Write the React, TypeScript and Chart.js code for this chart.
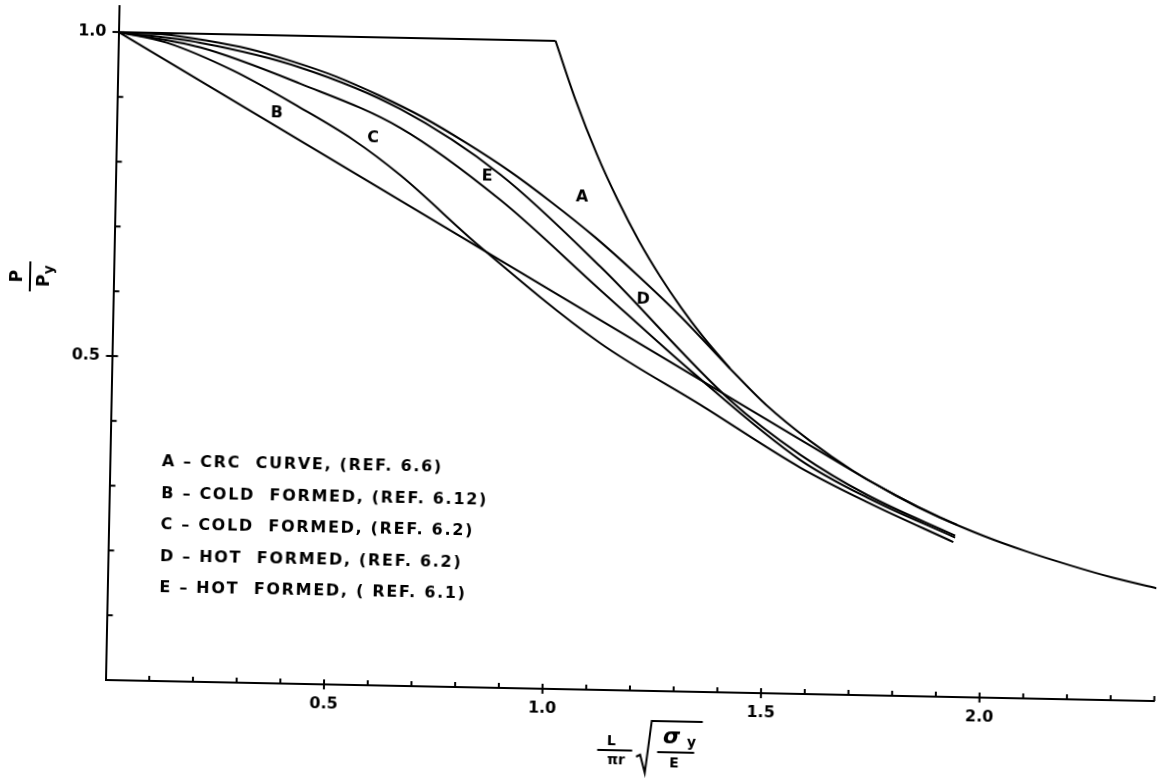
import React, { useEffect, useRef } from "react";
import { Chart, registerables } from "chart.js";

Chart.register(...registerables);

// ---------- axis ticks and labels ----------
const xTickValues = [0.1, 0.2, 0.3, 0.4, 0.5, 0.6, 0.7, 0.8, 0.9, 1.0, 1.1, 1.2, 1.3, 1.4, 1.5, 1.6, 1.7, 1.8, 1.9, 2.0, 2.1, 2.2, 2.3, 2.4];
const xLabelValues = [0.5, 1.0, 1.5, 2.0];
const xLabelTexts = ["0.5", "1.0", "1.5", "2.0"];
const yTickValues = [0.1, 0.2, 0.3, 0.4, 0.5, 0.6, 0.7, 0.8, 0.9, 1.0];
const yLabelValues = [0.5, 1.0];
const yLabelTexts = ["0.5", "1.0"];

// ---------- curves (x = slenderness, y = P/Py) ----------
const envelopeFlatX = [0, 1.0];
const envelopeFlatY = [1.0, 1.0];
const eulerX = [1.0, 1.05, 1.1, 1.15, 1.2, 1.25, 1.3, 1.35, 1.414];
const eulerY = [1.0, 0.907, 0.826, 0.756, 0.694, 0.64, 0.592, 0.549, 0.5];

const curveAX = [0, 0.1, 0.2, 0.3, 0.4, 0.5, 0.6, 0.7, 0.8, 0.9, 1.0, 1.1, 1.2, 1.3, 1.414, 1.5, 1.6, 1.7, 1.8, 1.9, 2.0, 2.1, 2.2, 2.3, 2.4];
const curveAY = [1.0, 0.998, 0.99, 0.978, 0.96, 0.938, 0.91, 0.878, 0.84, 0.798, 0.75, 0.698, 0.64, 0.578, 0.5, 0.444, 0.391, 0.346, 0.309, 0.277, 0.25, 0.227, 0.207, 0.189, 0.174];

const curveBX = [0, 1.732, 1.75, 1.8, 1.85, 1.9, 1.94];
const curveBY = [1.0, 0.333, 0.327, 0.309, 0.292, 0.277, 0.266];

const curveCX = [0, 0.111, 0.264, 0.419, 0.542, 0.651, 0.837, 1.116, 1.348, 1.58, 1.734, 1.933];
const curveCY = [1.0, 0.985, 0.944, 0.889, 0.841, 0.788, 0.68, 0.535, 0.443, 0.349, 0.298, 0.239];

const curveDX = [0, 0.187, 0.417, 0.648, 0.88, 1.113, 1.416, 1.579, 1.734, 1.937];
const curveDY = [1.0, 0.986, 0.951, 0.89, 0.792, 0.653, 0.451, 0.369, 0.309, 0.249];

const curveEX = [0, 0.187, 0.418, 0.649, 0.881, 1.114, 1.33, 1.579, 1.734, 1.937];
const curveEY = [1.0, 0.979, 0.926, 0.861, 0.753, 0.617, 0.492, 0.361, 0.305, 0.246];

// ---------- annotations ----------
const curveLetters = ["A", "B", "C", "D", "E"];
const curveLetterX = [1.068, 0.366, 0.587, 1.2125, 0.85];
const curveLetterY = [0.76, 0.88, 0.845, 0.603, 0.788];

const legendLines = [
  "A – CRC  CURVE, (REF. 6.6)",
  "B – COLD  FORMED, (REF. 6.12)",
  "C – COLD  FORMED, (REF. 6.2)",
  "D – HOT  FORMED, (REF. 6.2)",
  "E – HOT  FORMED, ( REF. 6.1)",
];

const FONT = "'DejaVu Sans', 'Liberation Sans', sans-serif";
const INK = "#000";

function pts(xs: number[], ys: number[]) {
  return xs.map((x, i) => ({ x, y: ys[i] }));
}

const decorPlugin = {
  id: "decor",
  afterDraw(chart: any) {
    const { ctx, chartArea } = chart;
    const xs = chart.scales.x;
    const ys = chart.scales.y;
    const L = chartArea.left;
    const B = chartArea.bottom;
    ctx.save();
    ctx.strokeStyle = INK;
    ctx.fillStyle = INK;
    ctx.lineWidth = 2;

    // x ticks (inside, majors cross)
    xTickValues.forEach((v) => {
      const px = xs.getPixelForValue(v);
      const major = xLabelValues.includes(v);
      ctx.beginPath();
      ctx.moveTo(px, B - 5);
      ctx.lineTo(px, B + (major ? 5 : 0));
      ctx.stroke();
    });
    // y ticks
    yTickValues.forEach((v) => {
      const py = ys.getPixelForValue(v);
      const major = yLabelValues.includes(v);
      ctx.beginPath();
      ctx.moveTo(L - (major ? 6 : 0), py);
      ctx.lineTo(L + 6, py);
      ctx.stroke();
    });

    // curve letters
    ctx.font = `bold 16px ${FONT}`;
    ctx.textAlign = "center";
    ctx.textBaseline = "middle";
    curveLetters.forEach((t, i) => {
      ctx.fillText(t, xs.getPixelForValue(curveLetterX[i]), ys.getPixelForValue(curveLetterY[i]));
    });

    // legend block
    ctx.font = `bold 16px ${FONT}`;
    (ctx as any).letterSpacing = "1.7px";
    ctx.textAlign = "left";
    legendLines.forEach((t, i) => {
      ctx.fillText(t, L + 52, B - 219 + i * 31.5);
    });
    (ctx as any).letterSpacing = "0px";

    // y-axis title: P / Py (rotated)
    ctx.save();
    ctx.translate(22, 278);
    ctx.rotate(-Math.PI / 2);
    ctx.font = `bold 17px ${FONT}`;
    ctx.textAlign = "center";
    ctx.fillText("P", 0, -12);
    ctx.beginPath();
    ctx.moveTo(-15, 0);
    ctx.lineTo(15, 0);
    ctx.stroke();
    ctx.fillText("P", -4, 15);
    ctx.font = `bold 14px ${FONT}`;
    ctx.fillText("y", 7, 19);
    ctx.restore();

    // x-axis title: L/(pi r) * sqrt(sigma_y / E)
    const cx = L;
    ctx.font = `bold 14px ${FONT}`;
    ctx.textAlign = "center";
    ctx.fillText("L", cx + 507, B + 51);
    ctx.lineWidth = 2;
    ctx.beginPath();
    ctx.moveTo(cx + 493, B + 60);
    ctx.lineTo(cx + 528, B + 60);
    ctx.stroke();
    ctx.fillText("πr", cx + 512, B + 70);
    ctx.beginPath();
    ctx.moveTo(cx + 532, B + 66);
    ctx.lineTo(cx + 536, B + 64);
    ctx.lineTo(cx + 541, B + 82);
    ctx.lineTo(cx + 547, B + 30);
    ctx.lineTo(cx + 598, B + 30);
    ctx.stroke();
    ctx.font = `italic bold 22px ${FONT}`;
    ctx.fillText("σ", cx + 567, B + 46);
    ctx.font = `bold 14px ${FONT}`;
    ctx.fillText("y", cx + 587, B + 51);
    ctx.beginPath();
    ctx.moveTo(cx + 553, B + 61);
    ctx.lineTo(cx + 590, B + 61);
    ctx.stroke();
    ctx.fillText("E", cx + 570, B + 72);

    ctx.restore();
  },
};

export default function App() {
  const ref = useRef<HTMLCanvasElement | null>(null);

  useEffect(() => {
    if (!ref.current) return;
    const line = (data: any, extra: any = {}) => ({
      data,
      borderColor: INK,
      borderWidth: 2,
      pointRadius: 0,
      fill: false,
      ...extra,
    });
    const chart = new Chart(ref.current, {
      type: "line",
      data: {
        datasets: [
          line(pts(envelopeFlatX, envelopeFlatY), { label: "Euler plateau", tension: 0 }),
          line(pts(eulerX, eulerY), { label: "Euler", cubicInterpolationMode: "monotone" }),
          line(pts(curveAX, curveAY), { label: "A", cubicInterpolationMode: "monotone" }),
          line(pts(curveBX, curveBY), { label: "B", tension: 0 }),
          line(pts(curveCX, curveCY), { label: "C", cubicInterpolationMode: "monotone" }),
          line(pts(curveDX, curveDY), { label: "D", cubicInterpolationMode: "monotone" }),
          line(pts(curveEX, curveEY), { label: "E", cubicInterpolationMode: "monotone" }),
        ],
      },
      options: {
        animation: false,
        responsive: false,
        devicePixelRatio: 1,
        layout: { padding: { left: 0, right: 4.5, top: 6, bottom: 0 } },
        plugins: {
          legend: { display: false },
          tooltip: { enabled: false },
          title: { display: false },
        },
        scales: {
          x: {
            type: "linear",
            min: 0,
            max: 2.4,
            afterFit: (s: any) => {
              s.height = 100;
              s.paddingLeft = 0;
              s.paddingRight = 0;
            },
            afterBuildTicks: (s: any) => {
              s.ticks = xLabelValues.map((v) => ({ value: v }));
            },
            ticks: {
              autoSkip: false,
              maxRotation: 0,
              padding: 10,
              color: INK,
              font: { family: FONT, size: 16, weight: "bold" },
              callback: (v: any) => {
                const i = xLabelValues.indexOf(Number(v));
                return i >= 0 ? xLabelTexts[i] : "";
              },
            },
            grid: { display: false, drawTicks: false },
            border: { display: true, color: INK, width: 2 },
          },
          y: {
            type: "linear",
            min: 0,
            max: 1.04,
            afterFit: (s: any) => {
              s.width = 105.5;
              s.paddingTop = 0;
              s.paddingBottom = 0;
            },
            afterBuildTicks: (s: any) => {
              s.ticks = yLabelValues.map((v) => ({ value: v }));
            },
            ticks: {
              autoSkip: false,
              padding: 12,
              color: INK,
              font: { family: FONT, size: 16, weight: "bold" },
              callback: (v: any) => {
                const i = yLabelValues.indexOf(Number(v));
                return i >= 0 ? yLabelTexts[i] : "";
              },
            },
            grid: { display: false, drawTicks: false },
            border: { display: true, color: INK, width: 2 },
          },
        },
      },
      plugins: [decorPlugin],
    } as any);
    return () => chart.destroy();
  }, []);

  return (
    <div style={{ position: "fixed", left: 0, top: 0, width: 1159, height: 780, background: "#fff", overflow: "hidden" }}>
      <canvas
        ref={ref}
        width={1159}
        height={780}
        style={{
          position: "absolute",
          left: 0,
          top: 0,
          width: 1159,
          height: 780,
          transform: "rotate(1.15deg)",
          transformOrigin: "105.5px 680px",
        }}
      />
    </div>
  );
}
